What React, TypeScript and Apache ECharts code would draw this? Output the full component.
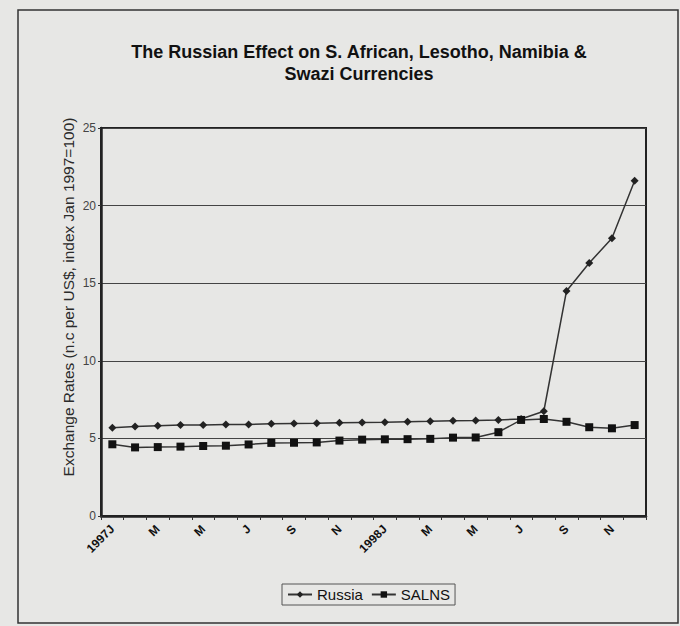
import React, { useEffect, useRef } from "react";
import * as echarts from "echarts";

const categories = [
  "1997J", "F", "M", "A", "M", "J", "J", "A", "S", "O", "N", "D",
  "1998J", "F", "M", "A", "M", "J", "J", "A", "S", "O", "N", "D",
];
const russia = [
  5.68, 5.76, 5.82, 5.86, 5.87, 5.89, 5.9, 5.94, 5.96, 5.97, 6.01, 6.03,
  6.04, 6.08, 6.1, 6.14, 6.15, 6.19, 6.25, 6.75, 14.5, 16.3, 17.9, 21.6,
];
const salns = [
  4.62, 4.42, 4.44, 4.47, 4.51, 4.53, 4.61, 4.71, 4.72, 4.74, 4.86, 4.92,
  4.94, 4.95, 4.97, 5.05, 5.06, 5.4, 6.19, 6.25, 6.07, 5.72, 5.65, 5.86,
];
const yTicks = { min: 0, max: 25, interval: 5 };
const titleText = "The Russian Effect on S. African, Lesotho, Namibia &\nSwazi Currencies";
const yName = "Exchange Rates (n.c per US$, index Jan 1997=100)";

export default function App() {
  const ref = useRef<HTMLDivElement>(null);
  useEffect(() => {
    document.body.style.margin = "0";
    const chart = echarts.init(ref.current!, null, { renderer: "svg" });
    const font = "'Liberation Sans', Arial, sans-serif";
    chart.setOption({
      animation: false,
      backgroundColor: "#e7e7e5",
      textStyle: { fontFamily: font },
      title: {
        text: titleText,
        left: 354,
        top: 36,
        textAlign: "center",
        textStyle: {
          fontSize: 18,
          fontWeight: "bold",
          color: "#111",
          lineHeight: 22,
          fontFamily: font,
        },
      },
      graphic: [
        {
          type: "rect",
          shape: { x: 18, y: 10, width: 660, height: 613 },
          style: { fill: "none", stroke: "#333", lineWidth: 1.5 },
          silent: true,
        },
        {
          type: "text",
          x: 68,
          y: 297,
          rotation: Math.PI / 2,
          style: {
            text: yName,
            fontSize: 15.5,
            fontFamily: font,
            fill: "#2a2a2a",
            align: "center",
            verticalAlign: "middle",
          },
        },
      ],
      legend: {
        data: ["Russia", "SALNS"],
        left: 282,
        top: 584,
        orient: "horizontal",
        itemWidth: 24,
        itemHeight: 8,
        itemGap: 8,
        padding: [3, 5, 3, 5],
        borderColor: "#555",
        borderWidth: 1,
        textStyle: { fontSize: 15, color: "#111", fontFamily: font },
      },
      grid: { left: 101, top: 128, right: 34, bottom: 110, show: true, borderColor: "#222", borderWidth: 2, backgroundColor: "transparent" },
      xAxis: {
        type: "category",
        data: categories,
        boundaryGap: true,
        axisLine: { lineStyle: { color: "#222", width: 2.5 } },
        axisTick: { show: true, interval: 0, length: 4, lineStyle: { color: "#333" } },
        axisLabel: {
          interval: 1,
          rotate: 45,
          fontSize: 12,
          fontWeight: "bold",
          color: "#111",
          margin: 11,
          fontFamily: font,
        },
        splitLine: { show: false },
      },
      yAxis: {
        type: "value",
        min: yTicks.min,
        max: yTicks.max,
        interval: yTicks.interval,
        axisLine: { show: true, lineStyle: { color: "#222", width: 2.5 } },
        axisTick: { show: true, length: 3, lineStyle: { color: "#333" } },
        axisLabel: { fontSize: 12, color: "#444", margin: 5, fontFamily: font },
        splitLine: { show: true, lineStyle: { color: "#444", width: 1.2 } },
      },
      series: [
        {
          name: "Russia",
          type: "line",
          data: russia,
          symbol: "diamond",
          symbolSize: 8,
          itemStyle: { color: "#222" },
          lineStyle: { color: "#333", width: 1.5 },
        },
        {
          name: "SALNS",
          type: "line",
          data: salns,
          symbol: "rect",
          symbolSize: 8,
          itemStyle: { color: "#111" },
          lineStyle: { color: "#333", width: 1.5 },
        },
      ],
    });
    return () => chart.dispose();
  }, []);
  return (
    <div
      ref={ref}
      style={{ position: "absolute", left: 0, top: 0, width: 680, height: 626 }}
    />
  );
}
